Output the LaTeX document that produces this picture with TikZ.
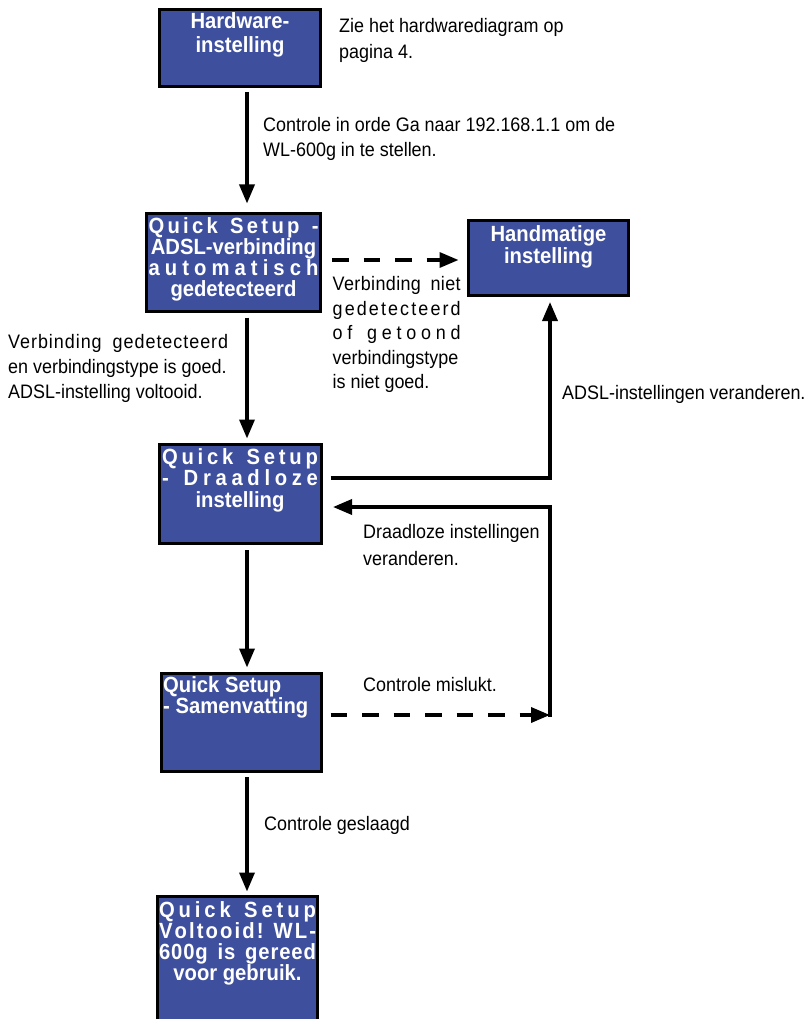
\documentclass[tikz,border=0pt]{standalone}
\usepackage{fontspec}
\setmainfont{Liberation Sans}[FakeStretch=0.92]
\usetikzlibrary{arrows.meta}
\definecolor{boxblue}{RGB}{62,79,158}
\makeatletter
\def\lsp#1{\lsp@a#1\relax}
\def\lsp@a#1{#1\lsp@b}
\def\lsp@b#1{\ifx#1\relax\else\hfill#1\expandafter\lsp@b\fi}
\makeatother
\newdimen\bw
\newcommand\cln[1]{\hbox to \bw{\hss#1\hss}}
\newcommand\sln[1]{\hbox to \bw{\lsp{#1}}}
\newcommand\jln[1]{\hbox to \bw{#1}}
\begin{document}
\begin{tikzpicture}[x=1pt,y=-1pt,
  box/.style={draw=black,line width=3pt,fill=boxblue,inner sep=0pt,outer sep=0pt},
  btext/.style={text=white,inner sep=0pt,anchor=base,font=\bfseries\fontsize{22}{21.5}\selectfont},
  ntext/.style={text=black,inner sep=0pt,anchor=base west,font=\fontsize{19.5}{25.5}\selectfont},
  arr/.style={line width=3.5pt,-{Triangle[length=19pt,width=15pt]}},
  darr/.style={arr,dash pattern=on 16.5pt off 15pt}]
\useasboundingbox (0,0) rectangle (808,1019);
% boxes
\node[box,minimum width=161pt,minimum height=77pt] (B1) at (240,48) {};
\node[box,minimum width=174pt,minimum height=98pt] (B2) at (233.5,262.5) {};
\node[box,minimum width=160pt,minimum height=75pt] (H) at (548.5,258) {};
\node[box,minimum width=162pt,minimum height=99pt] (B3) at (240.5,494) {};
\node[box,minimum width=160pt,minimum height=98pt] (B4) at (241.5,722.5) {};
\node[box,minimum width=160pt,minimum height=143pt] (B5) at (237.5,968) {};
% box texts
\node[btext] (L1) at (240,29) {\bw=160pt\vtop{\baselineskip=24pt\cln{Hardware-}\cln{instelling}}};
\node[btext] (LH) at (548.5,241) {\bw=158pt\vtop{\baselineskip=22pt\cln{Handmatige}\cln{instelling}}};
\node[btext] (L2) at (233.5,233) {\bw=170pt\vtop{\baselineskip=21.3pt\sln{Quick~Setup~-}\cln{ADSL-verbinding}\sln{automatisch}\cln{gedetecteerd}}};
\node[btext] (L3) at (240,464) {\bw=156pt\vtop{\baselineskip=21.5pt\sln{Quick~Setup}\sln{-~Draadloze}\cln{instelling}}};
\node[btext,anchor=base west] (L4) at (163,692) {\vtop{\baselineskip=21pt\hbox{Quick Setup}\hbox{- Samenvatting}}};
\node[btext] (L5) at (237.5,917) {\bw=157pt\vtop{\baselineskip=21pt\sln{Quick~Setup}\sln{Voltooid!~WL-}\jln{\addfontfeature{LetterSpace=4}600g is gereed}\cln{voor gebruik.}}};
% plain texts
\node[ntext] (T1) at (339,33) {\vtop{\baselineskip=26pt\hbox{Zie het hardwarediagram op}\hbox{pagina 4.}}};
\node[ntext] (T2) at (263,131.5) {\vtop{\baselineskip=25.5pt\hbox{Controle in orde Ga naar 192.168.1.1 om de}\hbox{WL-600g in te stellen.}}};
\node[ntext] (T3) at (332.5,290.5) {\bw=128pt\vtop{\baselineskip=24.5pt\jln{\addfontfeature{LetterSpace=2}Verbinding niet}\sln{gedetecteerd}\sln{of~getoond}\hbox{verbindingstype}\hbox{is niet goed.}}};
\node[ntext] (T4) at (8,348) {\bw=220pt\vtop{\baselineskip=25pt\jln{\addfontfeature{LetterSpace=5}Verbinding gedetecteerd}\hbox{en verbindingstype is goed.}\hbox{ADSL-instelling voltooid.}}};
\node[ntext] (T5) at (562,399) {ADSL-instellingen veranderen.};
\node[ntext] (T6) at (363,538) {\vtop{\baselineskip=27pt\hbox{Draadloze instellingen}\hbox{veranderen.}}};
\node[ntext] (T7) at (363,691.5) {Controle mislukt.};
\node[ntext] (T8) at (264,830) {Controle geslaagd};
% connectors
\coordinate (ax) at (247,0);
\coordinate (rx) at (550,0);
\draw[arr,shorten <=5.5pt,shorten >=10pt] (B1.south -| ax) -- (B2.north -| ax);
\draw[arr,shorten <=6pt,shorten >=6pt] (B2.south -| ax) -- (B3.north -| ax);
\draw[arr,shorten <=6.5pt,shorten >=6pt] (B3.south -| ax) -- (B4.north -| ax);
\draw[arr,shorten <=5.5pt,shorten >=5pt] (B4.south -| ax) -- (B5.north -| ax);
\coordinate (d2) at ([yshift=2.5pt]B2.east);
\draw[darr,shorten <=11.5pt,shorten >=10pt] (d2) -- (d2 -| H.west);
\coordinate (s3) at ([yshift=16pt]B3.east);
\draw[arr,shorten <=9pt,shorten >=6.5pt] (s3) -| (H.south -| rx);
\coordinate (d4) at ([yshift=7.5pt]B4.east);
\coordinate (r4) at (d4 -| rx);
\draw[darr,shorten <=9pt] (d4) -- (r4);
\coordinate (s3b) at ([yshift=-13pt]B3.east);
\draw[arr,shorten >=11.5pt] ([yshift=-1.75pt]r4) |- (s3b);
\end{tikzpicture}
\end{document}
